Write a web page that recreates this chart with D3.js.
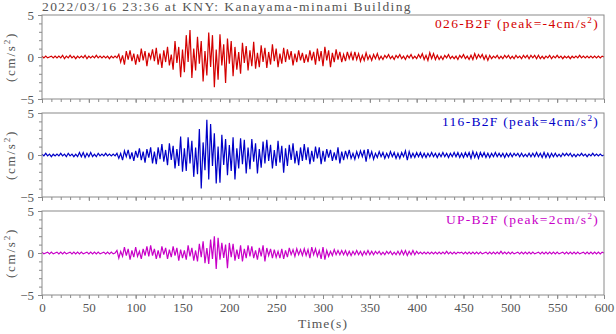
<!DOCTYPE html>
<html><head><meta charset="utf-8">
<script src="https://cdn.jsdelivr.net/npm/d3@7"></script>
<style>
body{margin:0;background:#fff}
svg{display:block}
text{font-family:"Liberation Serif","Times New Roman",serif}
</style>
</head><body>
<svg id="chart" width="616" height="334"></svg>
<script>
// Acceleration records, one value every 2 s from 0 to 600 s (cm/s^2)
const title = "2022/03/16 23:36 at KNY: Kanayama-minami Building";
const sampleInterval = 2;
const channels = ["026-B2F", "116-B2F", "UP-B2F"];
const channelColors = ["#d40000", "#0000c8", "#c800c8"];
const timeTicks = [0, 50, 100, 150, 200, 250, 300, 350, 400, 450, 500, 550, 600];
const accTicks = [-5, 0, 5];

const acc026 = [
 0.1,-0.1,0.1,-0.1,0.0,0.1,-0.1,0.1,-0.1,0.1,
 -0.1,0.2,-0.2,0.1,-0.1,0.2,-0.1,0.1,-0.2,0.1,
 -0.1,0.1,-0.1,0.2,-0.2,0.1,-0.1,0.1,-0.1,0.2,
 -0.1,0.1,-0.1,0.1,-0.1,0.1,-0.2,0.1,-0.1,0.1,
 -0.1,0.3,-0.6,0.2,-0.9,0.7,-0.3,0.8,-0.5,0.4,
 -0.9,0.3,-0.6,1.0,-0.4,0.7,-1.1,0.5,-0.2,0.9,
 -0.5,1.1,-0.9,0.4,-1.3,0.8,-0.6,1.2,-1.0,0.3,
 -1.5,1.9,-0.7,1.2,-2.4,0.9,-1.8,2.6,-0.6,3.2,
 -2.5,1.0,-1.6,2.4,-0.8,1.9,-2.9,0.7,-2.2,2.9,
 -1.2,2.6,-3.6,0.9,-2.7,2.7,-1.0,1.5,-3.1,2.2,
 -0.8,1.9,-2.3,1.2,-1.5,0.6,-2.0,1.7,-0.7,1.3,
 -1.6,0.8,-1.1,1.8,-1.4,0.5,-1.2,1.4,-0.6,1.1,
 -1.3,0.6,-0.9,1.5,-0.5,1.0,-1.2,0.4,-0.8,1.1,
 -0.6,0.9,-0.3,0.7,-1.0,0.4,-0.6,0.8,-0.4,0.5,
 -0.7,0.3,-0.6,0.8,-0.4,0.6,-0.9,1.0,-0.5,0.7,
 -1.1,1.2,-0.4,0.8,-1.2,0.5,-0.6,0.9,-0.3,0.6,
 -0.6,0.3,-0.5,0.6,-0.2,0.5,-0.4,0.6,-0.3,0.4,
 -0.5,0.2,-0.4,0.5,-0.3,0.2,-0.4,0.3,-0.2,0.4,
 -0.3,0.1,-0.3,0.2,-0.1,0.3,-0.2,0.1,-0.3,0.2,
 -0.1,0.3,-0.2,0.1,-0.3,0.2,-0.1,0.3,-0.2,0.1,
 -0.2,0.3,-0.1,0.4,-0.3,0.2,-0.4,0.5,-0.2,0.4,
 -0.3,0.2,-0.3,0.1,-0.3,0.2,-0.1,0.3,-0.2,0.1,
 -0.2,0.1,-0.3,0.2,-0.1,0.3,-0.2,0.1,-0.3,0.2,
 -0.3,0.4,-0.2,0.3,-0.1,0.3,-0.3,0.2,-0.4,0.2,
 -0.2,0.1,-0.1,0.2,-0.2,0.1,-0.2,0.2,-0.1,0.2,
 -0.2,0.1,-0.2,0.2,-0.1,0.1,-0.2,0.2,-0.1,0.2,
 -0.2,0.2,-0.1,0.2,-0.2,0.2,-0.2,0.1,-0.2,0.1,
 -0.1,0.2,-0.2,0.1,-0.1,0.2,-0.1,0.1,-0.2,0.1,
 -0.1,0.1,-0.2,0.1,-0.1,0.1,-0.1,0.2,-0.1,0.1,
 -0.1,0.1,-0.1,0.1,-0.1,0.1,-0.1,0.1,-0.1,0.1,
 0.0
];

const acc116 = [
 0.1,-0.1,0.2,-0.1,0.1,-0.2,0.1,-0.1,0.1,-0.1,
 0.2,-0.1,0.1,-0.2,0.2,-0.1,0.1,-0.2,0.1,-0.2,
 0.3,-0.2,0.3,-0.3,0.2,-0.2,0.3,-0.2,0.1,-0.2,
 0.2,-0.1,0.1,-0.1,0.2,-0.1,0.1,-0.1,0.1,-0.1,
 0.2,-0.4,0.2,-0.6,0.5,-0.2,0.6,-0.5,0.3,-0.7,
 0.5,-0.3,0.8,-0.6,0.4,-0.9,0.7,-0.3,0.9,-1.0,
 0.4,-1.1,0.9,-0.5,1.3,-0.8,0.6,-1.2,1.4,-0.6,
 1.1,-1.6,0.7,-1.3,2.2,-2.0,0.8,-1.9,2.1,-1.0,
 1.7,-2.6,0.9,-2.3,3.1,-4.0,1.5,-1.8,4.2,-2.9,
 3.7,-1.3,2.6,-3.4,1.0,-3.3,2.4,-1.2,1.9,-2.4,
 1.2,-1.9,2.1,-2.9,0.8,-1.6,2.0,-1.1,1.8,-2.2,
 0.9,-1.7,1.9,-0.8,1.4,-2.2,0.7,-1.5,1.6,-1.0,
 1.8,-0.7,1.2,-1.6,0.6,-1.3,1.7,-0.9,1.1,-2.1,
 0.8,-1.3,1.2,-0.6,1.4,-1.0,0.5,-1.2,0.9,-0.7,
 1.3,-0.6,0.9,-1.1,0.5,-0.8,1.0,-0.4,0.9,-1.1,
 0.5,-0.8,0.7,-0.3,0.6,-0.7,0.3,-0.6,0.9,-1.0,
 0.4,-0.6,0.5,-0.3,0.6,-0.4,0.2,-0.5,0.4,-0.3,
 0.5,-0.2,0.6,-0.8,0.7,-0.3,0.4,-0.5,0.2,-0.3,
 0.4,-0.2,0.3,-0.4,0.2,-0.3,0.4,-0.2,0.3,-0.4,
 0.2,-0.4,0.3,-0.2,0.5,-0.6,0.4,-0.3,0.2,-0.3,
 0.3,-0.2,0.3,-0.3,0.2,-0.3,0.2,-0.2,0.3,-0.2,
 0.2,-0.3,0.2,-0.2,0.3,-0.2,0.2,-0.3,0.2,-0.2,
 0.3,-0.2,0.3,-0.3,0.2,-0.3,0.3,-0.2,0.3,-0.4,
 0.4,-0.3,0.3,-0.4,0.3,-0.2,0.3,-0.3,0.2,-0.3,
 0.2,-0.2,0.3,-0.2,0.2,-0.2,0.2,-0.3,0.2,-0.2,
 0.2,-0.2,0.2,-0.1,0.2,-0.2,0.2,-0.2,0.1,-0.2,
 0.2,-0.2,0.2,-0.2,0.3,-0.2,0.2,-0.3,0.3,-0.3,
 0.2,-0.3,0.2,-0.2,0.2,-0.2,0.1,-0.2,0.2,-0.1,
 0.2,-0.1,0.2,-0.2,0.1,-0.2,0.1,-0.1,0.2,-0.1,
 0.1,-0.2,0.1,-0.1,0.2,-0.1,0.1,-0.1,0.1,-0.1,
 0.0
];

const accUP = [
 0.1,-0.1,0.0,0.1,-0.1,0.1,-0.1,0.0,0.1,-0.1,
 0.1,-0.1,0.1,-0.1,0.0,0.1,-0.1,0.1,-0.1,0.1,
 -0.1,0.1,-0.1,0.0,0.1,-0.1,0.1,-0.1,0.1,-0.1,
 0.1,-0.1,0.0,0.1,-0.1,0.1,-0.1,0.1,-0.1,0.0,
 0.3,-0.6,0.2,-0.4,0.7,-0.3,0.5,-0.8,0.3,-0.5,
 0.7,-0.4,0.2,-0.7,0.5,-0.3,0.8,-0.4,0.9,-0.3,
 0.5,-0.7,0.3,-0.6,0.8,-0.2,0.6,-0.7,0.4,-0.5,
 0.8,-0.3,0.6,-0.9,0.4,-0.6,0.3,-0.8,0.9,-0.4,
 0.6,-0.9,0.3,-1.0,1.1,-0.5,1.4,-1.2,0.6,-1.3,
 1.6,-0.7,2.0,-1.9,1.8,-0.8,1.2,-0.6,1.0,-1.8,
 1.2,-0.5,1.1,-0.9,0.4,-0.7,0.9,-1.0,0.5,-0.6,
 0.9,-0.4,0.8,-0.6,0.3,-0.8,0.6,-0.4,0.9,-1.0,
 0.6,-0.3,0.5,-0.6,0.4,-0.5,0.2,-0.6,0.5,-0.7,
 0.3,-0.5,0.6,-0.2,0.4,-0.4,0.5,-0.2,0.4,-0.3,
 0.5,-0.3,0.4,-0.6,0.7,-0.2,0.5,-0.4,0.3,-0.7,
 0.7,-0.8,0.3,-0.4,0.2,-0.3,0.4,-0.2,0.3,-0.2,
 0.3,-0.2,0.3,-0.3,0.2,-0.3,0.2,-0.2,0.3,-0.2,
 0.2,-0.3,0.2,-0.2,0.3,-0.2,0.2,-0.2,0.2,-0.1,
 0.2,-0.2,0.1,-0.2,0.2,-0.1,0.2,-0.2,0.1,-0.2,
 0.2,-0.2,0.3,-0.2,0.3,-0.3,0.2,-0.2,0.3,-0.2,
 0.2,-0.1,0.1,-0.1,0.1,-0.1,0.1,-0.1,0.1,-0.1,
 0.1,-0.1,0.1,-0.1,0.1,-0.1,0.2,-0.1,0.1,-0.1,
 0.1,-0.1,0.1,0.0,0.1,-0.1,0.1,-0.1,0.1,-0.1,
 0.1,-0.1,0.1,-0.1,0.1,-0.1,0.0,0.1,-0.1,0.1,
 -0.1,0.1,-0.1,0.1,-0.1,0.2,-0.1,0.1,-0.1,0.1,
 -0.1,0.1,-0.1,0.0,0.1,-0.1,0.1,-0.1,0.1,-0.1,
 0.1,-0.1,0.1,-0.1,0.0,0.1,-0.1,0.1,-0.1,0.1,
 -0.1,0.1,-0.1,0.1,-0.1,0.1,-0.1,0.0,0.1,-0.1,
 0.1,-0.1,0.1,-0.1,0.1,-0.1,0.1,-0.1,0.0,0.1,
 -0.1,0.1,-0.1,0.1,-0.1,0.1,-0.1,0.1,-0.1,0.1,
 0.0
];

const records = [acc026, acc116, accUP];

// ---- layout ----
const svg = d3.select("#chart");
const left = 42, right = 604;
const panelTop = [15, 113, 211];
const panelH = 84;
const axisGray = "#8a8a8a";
const textGray = "#555";

const x = d3.scaleLinear().domain([0, 600]).range([left, right]);

// spread a text's glyphs so that it spans the given width
function spreadTo(sel, width) {
  const node = sel.node();
  const n = node.textContent.length;
  const w = node.getComputedTextLength();
  sel.attr("letter-spacing", ((width - w) / n).toFixed(3));
}

const titleText = svg.append("text")
  .attr("x", left).attr("y", 11)
  .attr("font-size", 13.5).attr("fill", textGray)
  .text(title);
spreadTo(titleText, 370);

records.forEach((rec, k) => {
  const top = panelTop[k];
  const y = d3.scaleLinear().domain([-5, 5]).range([top + panelH, top]);
  const g = svg.append("g");

  // x ticks: minor every 10 s, major every 50 s
  const minorX = g.append("g").attr("transform", `translate(0,${top + panelH})`)
    .call(d3.axisBottom(x).tickValues(d3.range(0, 601, 10)).tickSize(3).tickFormat(""));
  const majorX = g.append("g").attr("transform", `translate(0,${top + panelH})`)
    .call(d3.axisBottom(x).tickValues(timeTicks).tickSize(4).tickPadding(4)
      .tickFormat(k === 2 ? d3.format("d") : ""));
  // y ticks: minor every 1, major every 5
  const minorY = g.append("g").attr("transform", `translate(${left},0)`)
    .call(d3.axisLeft(y).tickValues(d3.range(-5, 6, 1)).tickSize(3).tickFormat(""));
  const majorY = g.append("g").attr("transform", `translate(${left},0)`)
    .call(d3.axisLeft(y).tickValues(accTicks).tickSize(4).tickPadding(4).tickFormat(d3.format("d")));

  [minorX, majorX, minorY, majorY].forEach(a => {
    a.select(".domain").remove();
    a.selectAll("line").attr("stroke", axisGray);
    a.selectAll("text").attr("fill", textGray).attr("font-size", 13)
      .attr("font-family", "Liberation Serif, Times New Roman, serif");
  });

  // waveform
  const line = d3.line()
    .x((d, i) => x(i * sampleInterval))
    .y(d => y(d));
  g.append("path")
    .datum(rec)
    .attr("fill", "none")
    .attr("stroke", channelColors[k])
    .attr("stroke-width", 1.2)
    .attr("d", line);

  // frame
  g.append("rect")
    .attr("x", left).attr("y", top)
    .attr("width", right - left).attr("height", panelH)
    .attr("fill", "none").attr("stroke", axisGray).attr("stroke-width", 1);

  // unit label
  const yl = g.append("text")
    .attr("transform", `translate(15,${top + panelH / 2 + 25}) rotate(-90)`)
    .attr("font-size", 13).attr("fill", textGray);
  yl.append("tspan").text("(cm/s");
  yl.append("tspan").attr("font-size", 9).attr("dy", -5).text("2");
  yl.append("tspan").attr("dy", 5).text(")");
  spreadTo(yl, 50);

  // channel name with peak value
  const peak = rec.reduce((a, b) => Math.abs(b) > Math.abs(a) ? b : a, 0);
  const lab = g.append("text")
    .attr("y", top + 13)
    .attr("font-size", 13.5).attr("fill", channelColors[k]);
  lab.append("tspan").text(`${channels[k]} (peak=${Math.round(peak)}cm/s`);
  lab.append("tspan").attr("font-size", 9).attr("dy", -5).text("2");
  lab.append("tspan").attr("dy", 5).text(")");
  const labWidth = [164, 157, 153][k];
  spreadTo(lab, labWidth);
  lab.attr("x", 599 - labWidth);
});

const xl = svg.append("text")
  .attr("x", 298).attr("y", 328)
  .attr("font-size", 13.5).attr("fill", textGray)
  .text("Time(s)");
spreadTo(xl, 50);
</script>
</body></html>
